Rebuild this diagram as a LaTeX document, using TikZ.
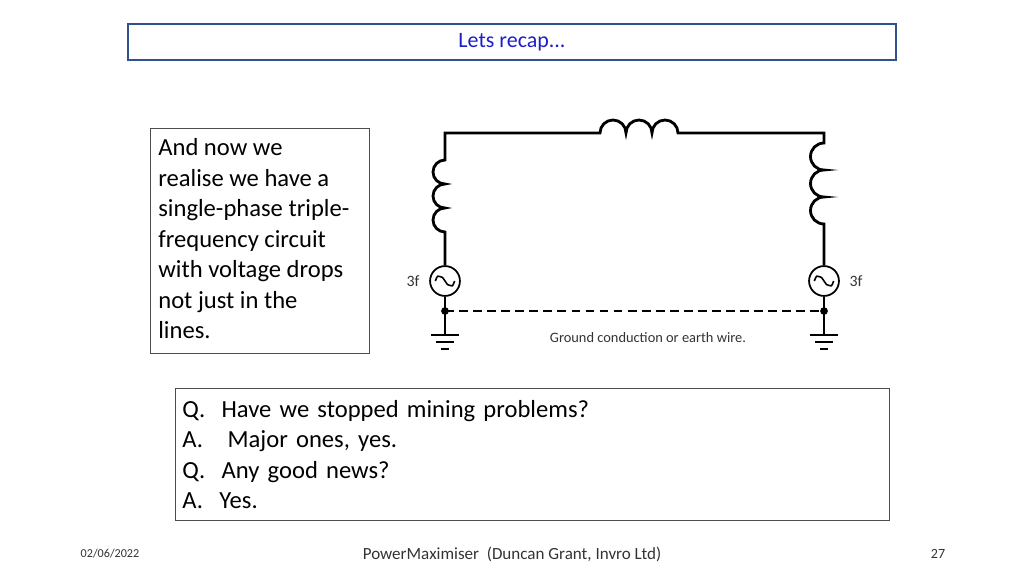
\documentclass[tikz,border=0pt]{standalone}
\usepackage{fontspec}
\setmainfont{Carlito}
\usetikzlibrary{positioning}
\definecolor{titleblue}{RGB}{47,82,143}
\definecolor{titletext}{RGB}{30,30,200}
\tikzset{
  wire/.style={line width=1.6pt},
  src/.style={circle, draw, line width=1pt, minimum size=17pt, inner sep=0pt},
  lbl/.style={font=\fontsize{8.2}{9}\selectfont, text=black!80}
}
\begin{document}
\begin{tikzpicture}[x=0.02cm, y=0.02cm]
  \useasboundingbox (0,0) rectangle (1024,576);
  % title
  \node[draw=titleblue, line width=1pt, minimum width=768*0.02cm, minimum height=36*0.02cm,
        text=titletext, font=\fontsize{12.5}{14}\selectfont] (title) at (512,534) {Lets recap...};
  % left text
  \node[draw=black!70, line width=0.5pt, anchor=north west, minimum width=219*0.02cm, minimum height=225*0.02cm,
        inner sep=0pt] (explain) at (150,448) {};
  \node[anchor=north west, align=left, inner sep=0pt,
        font=\fontsize{14}{17.4}\selectfont] (explaintext) at (158,438)
        {And now we\\realise we have a\\single-phase triple-\\frequency circuit\\with voltage drops\\not just in the\\lines.};
  % question box
  \node[draw=black!70, line width=0.5pt, anchor=north west, minimum width=714*0.02cm, minimum height=132*0.02cm,
        text width=700*0.02cm, align=left, inner sep=4pt, font=\fontsize{14}{17.4}\selectfont] (qa) at (175,188)
        {Q.\ \ Have we stopped mining problems?\\A.\ \ \ Major ones, yes.\\Q.\ \ Any good news?\\A.\ \ Yes.};
  % circuit
  \coordinate (tl) at (445,443);
  \coordinate (tr) at (824,443);
  \node[src] (srcL) at (445,295) {};
  \node[src] (srcR) at (824,295) {};
  \coordinate (gL) at (445,265);
  \coordinate (gR) at (824,265);
  \draw[wire] (srcL.north) -- (445,344) arc (-90:-270:12) arc (-90:-270:12) arc (-90:-270:12) -- (tl)
    -- (600,443) arc (180:0:13) arc (180:0:13) arc (180:0:13) -- (tr)
    -- (824,433) arc (90:270:13.5) arc (90:270:13.5) arc (90:270:13.5) -- (srcR.north);
  \foreach \s in {srcL,srcR}
    \draw[line width=0.9pt] ([xshift=-5.5pt]\s.center) .. controls +(1.5pt,4pt) and +(-1.5pt,0pt) .. ([xshift=-2.75pt,yshift=2.5pt]\s.center)
      .. controls +(1.5pt,0pt) and +(-1.5pt,2pt) .. (\s.center)
      .. controls +(1.5pt,-2pt) and +(-1.5pt,0pt) .. ([xshift=2.75pt,yshift=-2.5pt]\s.center)
      .. controls +(1.5pt,0pt) and +(-1.5pt,-4pt) .. ([xshift=5.5pt]\s.center);
  \node[lbl, left=2pt of srcL] (fL) {\fontsize{9}{10}\selectfont 3f};
  \node[lbl, right=2pt of srcR] (fR) {\fontsize{9}{10}\selectfont 3f};
  \draw[wire] (srcL.south) -- (gL) -- (445,241);
  \draw[wire] (srcR.south) -- (gR) -- (824,241);
  \draw[wire, dash pattern=on 5pt off 3pt] (gL) -- (gR);
  \fill (gL) circle (2.2pt) (gR) circle (2.2pt);
  \foreach \x in {445,824} {
    \draw[wire] (\x-14,241) -- (\x+14,241);
    \draw[wire] (\x-9,234) -- (\x+9,234);
    \draw[wire] (\x-4,227) -- (\x+4,227);
  }
  \node[lbl] (earth) at (648,238) {Ground conduction or earth wire.};
  % footer
  \node[font=\fontsize{6.9}{8}\selectfont, text=black!80] (date) at (110,22) {02/06/2022};
  \node[font=\fontsize{9.7}{11}\selectfont, text=black!80] (foot) at (512,22) {PowerMaximiser\ \ (Duncan Grant, Invro Ltd)};
  \node[font=\fontsize{8}{9}\selectfont, text=black!80] (page) at (938,22) {27};
\end{tikzpicture}
\end{document}
